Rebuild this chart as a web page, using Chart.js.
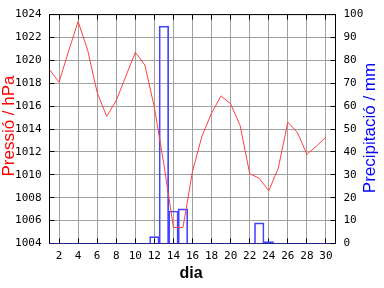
<!DOCTYPE html>
<html><head><meta charset="utf-8">
<script src="https://cdn.jsdelivr.net/npm/chart.js@4/dist/chart.umd.min.js"></script>
<style>html,body{margin:0;padding:0;background:#fff;}#wrap{width:384px;height:288px;}</style>
</head><body>
<div id="wrap"><canvas id="c" width="384" height="288"></canvas></div>
<script>
const days = [1,2,3,4,5,6,7,8,9,10,11,12,13,14,15,16,17,18,19,20,21,22,23,24,25,26,27,28,29,30];
const pressure = [1019.2,1018.1,1020.8,1023.4,1020.9,1017.2,1015.1,1016.5,1018.6,1020.7,1019.6,1015.9,1010.9,1005.4,1005.4,1010.3,1013.4,1015.4,1016.9,1016.2,1014.3,1010.1,1009.7,1008.6,1010.6,1014.6,1013.7,1011.8,1012.5,1013.3];
const precipitation = [0,0,0,0,0,0,0,0,0,0,0,3,95,14.2,15.1,0,0,0,0,0,0,0,9,0.8,0,0,0,0,0,0];
const xTickLabels = [2,4,6,8,10,12,14,16,18,20,22,24,26,28,30];
const pressureTicks = [1004,1006,1008,1010,1012,1014,1016,1018,1020,1022,1024];
const precipTicks = [0,10,20,30,40,50,60,70,80,90,100];
const xTitle = 'dia';
const yTitle = 'Pressió / hPa';
const y1Title = 'Precipitació / mm';

const tickFont = {family: "'DejaVu Sans Mono', monospace", size: 11};
const plain = v => String(v);
const align = p => Math.round(p - 0.5) + 0.5;

const framePlugin = {
  id: 'frame',
  beforeDatasetsDraw(chart) {
    const {ctx, chartArea: a, scales} = chart;
    ctx.save();
    ctx.strokeStyle = '#000';
    ctx.lineWidth = 1;
    ctx.strokeRect(a.left, a.top, a.right - a.left, a.bottom - a.top);
    ctx.beginPath();
    const L = 5;
    scales.x.ticks.forEach(t => {
      const px = align(scales.x.getPixelForValue(t.value));
      ctx.moveTo(px, a.bottom); ctx.lineTo(px, a.bottom - L);
      ctx.moveTo(px, a.top); ctx.lineTo(px, a.top + L);
    });
    scales.y.ticks.forEach(t => {
      const py = align(scales.y.getPixelForValue(t.value));
      ctx.moveTo(a.left, py); ctx.lineTo(a.left + L, py);
    });
    scales.y1.ticks.forEach(t => {
      const py = align(scales.y1.getPixelForValue(t.value));
      ctx.moveTo(a.right, py); ctx.lineTo(a.right - L, py);
    });
    ctx.stroke();
    ctx.restore();
  },
  afterDraw(chart) {
    const {ctx} = chart;
    ctx.save();
    ctx.textAlign = 'center';
    ctx.textBaseline = 'alphabetic';
    ctx.font = "17px 'Liberation Sans', Arial, sans-serif";
    ctx.fillStyle = '#ff0000';
    ctx.translate(13.5, 126);
    ctx.rotate(-Math.PI / 2);
    ctx.fillText(yTitle, 0, 0);
    ctx.restore();
    ctx.save();
    ctx.textAlign = 'center';
    ctx.textBaseline = 'alphabetic';
    ctx.font = "17px 'Liberation Sans', Arial, sans-serif";
    ctx.fillStyle = '#0000ff';
    ctx.translate(374.5, 128);
    ctx.rotate(-Math.PI / 2);
    ctx.fillText(y1Title, 0, 0);
    ctx.restore();
    ctx.save();
    ctx.textAlign = 'center';
    ctx.textBaseline = 'alphabetic';
    ctx.font = "bold 16px 'Liberation Sans', Arial, sans-serif";
    ctx.fillStyle = '#000';
    ctx.fillText(xTitle, 191, 278);
    ctx.restore();
  }
};

new Chart(document.getElementById('c'), {
  type: 'bar',
  data: {
    datasets: [
      {
        type: 'line',
        label: 'pressure',
        data: days.map((d, i) => ({x: d, y: pressure[i]})),
        yAxisID: 'y',
        borderColor: '#ff4040',
        borderWidth: 1,
        pointRadius: 0,
        tension: 0,
        fill: false,
        order: 0
      },
      {
        type: 'bar',
        label: 'precipitation',
        data: days.map((d, i) => ({x: d, y: precipitation[i]})),
        yAxisID: 'y1',
        backgroundColor: 'rgba(0,0,0,0)',
        borderColor: '#4444ff',
        borderWidth: 1,
        borderSkipped: 'start',
        barPercentage: 1,
        categoryPercentage: 1,
        order: 1
      },
      {
        type: 'line',
        label: 'baseline',
        data: [{x: days[0] - 0.5, y: 0}, {x: days[days.length - 1] + 0.5, y: 0}],
        yAxisID: 'y1',
        borderColor: '#4444ff',
        borderWidth: 1,
        pointRadius: 0,
        fill: false,
        order: 2
      }
    ]
  },
  options: {
    responsive: false,
    animation: false,
    devicePixelRatio: 1,
    layout: {padding: {top: 13.5, left: 0, right: 0, bottom: 0}},
    plugins: {legend: {display: false}, tooltip: {enabled: false}},
    scales: {
      x: {
        type: 'linear',
        min: 1, max: 31,
        offset: false,
        afterBuildTicks: s => { s.ticks = xTickLabels.map(v => ({value: v})); },
        afterFit: s => { s.height = 44.5; },
        ticks: {font: tickFont, color: '#000', padding: 6, maxRotation: 0, autoSkip: false, callback: plain},
        grid: {color: '#a0a0a0', lineWidth: 1, drawTicks: false, offset: false},
        border: {display: false}
      },
      y: {
        position: 'left',
        min: 1004, max: 1024,
        afterBuildTicks: s => { s.ticks = pressureTicks.map(v => ({value: v})); },
        afterFit: s => { s.width = 49.5; },
        ticks: {font: tickFont, color: '#000', padding: 8, callback: plain},
        grid: {color: '#a0a0a0', lineWidth: 1, drawTicks: false},
        border: {display: false}
      },
      y1: {
        position: 'right',
        min: 0, max: 100,
        afterBuildTicks: s => { s.ticks = precipTicks.map(v => ({value: v})); },
        afterFit: s => { s.width = 48.5; },
        ticks: {font: tickFont, color: '#000', padding: 8, callback: plain},
        grid: {display: false, drawTicks: false},
        border: {display: false}
      }
    }
  },
  plugins: [framePlugin]
});
</script>
</body></html>
